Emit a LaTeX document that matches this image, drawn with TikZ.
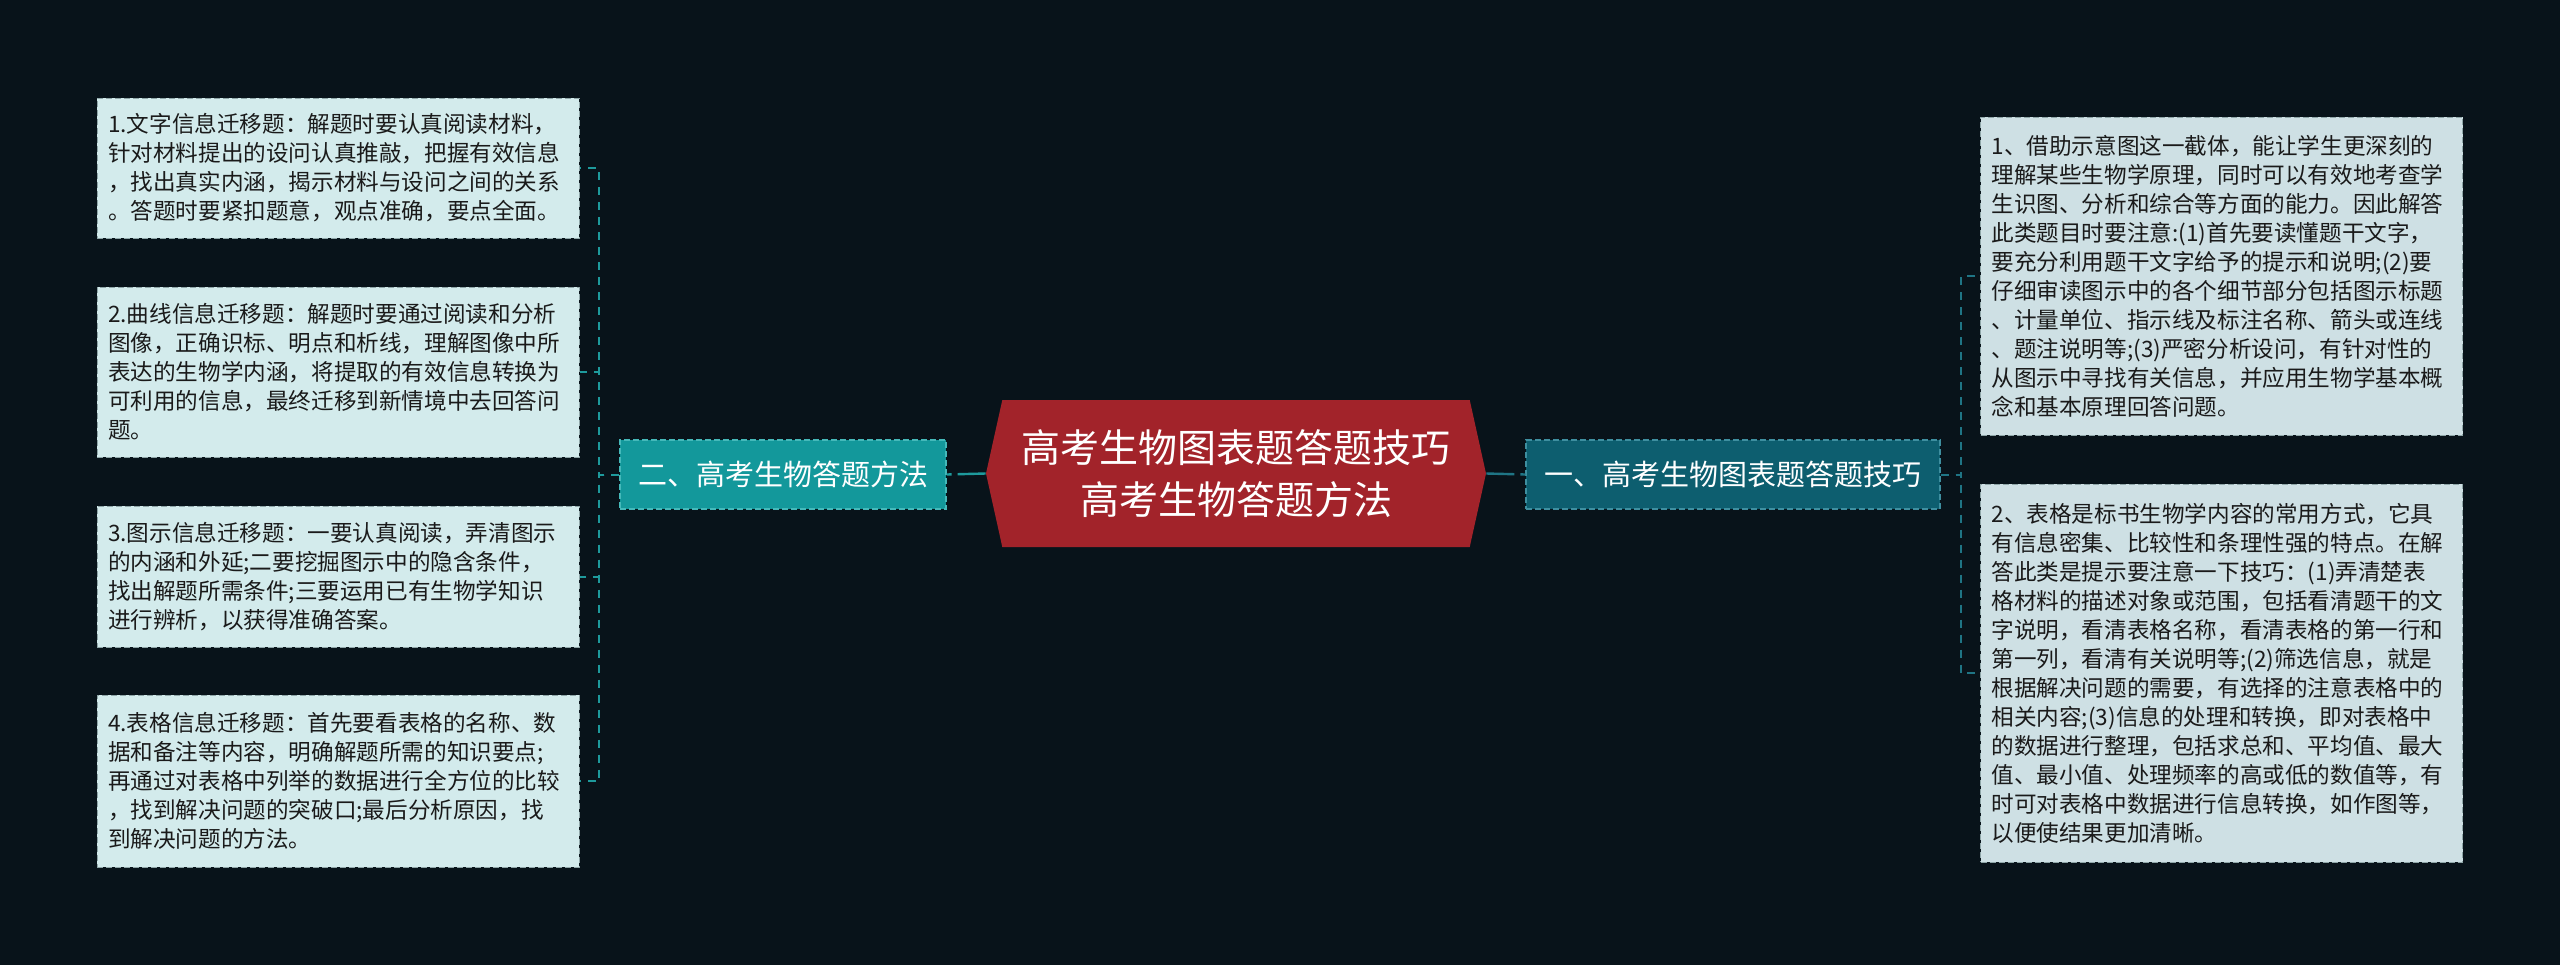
\documentclass[tikz,border=0pt]{standalone}
\usepackage{fontspec}
\newfontfamily\cjk{Noto Sans CJK SC}
\usetikzlibrary{shapes.symbols}
\definecolor{bgcol}{HTML}{08131A}
\definecolor{rootred}{HTML}{A2232A}
\definecolor{secfilll}{HTML}{13989B}
\definecolor{secedgel}{HTML}{45B9BA}
\definecolor{secfillr}{HTML}{0D5E6F}
\definecolor{secedger}{HTML}{3E8FA0}
\definecolor{leaffilll}{HTML}{D3EBEC}
\definecolor{leaffillr}{HTML}{CEE0E4}
\definecolor{leafedge}{HTML}{8FA6A8}
\definecolor{leaftext}{HTML}{1A1A1A}
\definecolor{connl}{HTML}{1E9A9C}
\definecolor{connr}{HTML}{1F7585}

\begin{document}
\begin{tikzpicture}[x=0.5pt, y=-0.5pt,
    rootnode/.style={signal, signal to=west and east, signal pointer angle=155,
      fill=rootred, text=white, minimum width=250pt, minimum height=73.5pt,
      inner sep=0pt, align=center, font=\cjk\fontsize{19.5pt}{26pt}\selectfont},
    secnode/.style={draw, dash pattern=on 3pt off 1.5pt, line width=0.6pt, text=white,
      minimum height=34.5pt, inner sep=0pt, font=\cjk\fontsize{14.5pt}{17pt}\selectfont},
    leaf/.style={draw=leafedge, dash pattern=on 3pt off 1.5pt, line width=0.5pt,
      text=leaftext, text width=230pt, inner xsep=5.5pt, inner ysep=0pt, align=left,
      font=\cjk\fontsize{11.3pt}{14.5pt}\selectfont},
    conn/.style={line width=1pt, dash pattern=on 4pt off 3.5pt},
    rootconn/.style={line width=1.2pt, dash pattern=on 14pt off 3pt}]
    \fill [bgcol] (0, 0) rectangle (2560, 965);
    \useasboundingbox (0, 0) rectangle (2560, 965);
    \node [rootnode] (root) at (1236, 473.5) {高考生物图表题答题技巧\\高考生物答题方法};
    \node [secnode, draw=secedgel, fill=secfilll, minimum width=163pt] (sec2) at (783, 474.5) {二、高考生物答题方法};
    \node [secnode, draw=secedger, fill=secfillr, minimum width=207pt] (sec1) at (1733, 474.5) {一、高考生物图表题答题技巧};
    \node [leaf, fill=leaffilll, minimum height=70pt] (tip1) at (338, 168) {1.文字信息迁移题：解题时要认真阅读材料，\\针对材料提出的设问认真推敲，把握有效信息\\，找出真实内涵，揭示材料与设问之间的关系\\。答题时要紧扣题意，观点准确，要点全面。};
    \node [leaf, fill=leaffilll, minimum height=85pt] (tip2) at (338, 372) {2.曲线信息迁移题：解题时要通过阅读和分析\\图像，正确识标、明点和析线，理解图像中所\\表达的生物学内涵，将提取的有效信息转换为\\可利用的信息，最终迁移到新情境中去回答问\\题。};
    \node [leaf, fill=leaffilll, minimum height=70.5pt] (tip3) at (338, 576.5) {3.图示信息迁移题：一要认真阅读，弄清图示\\的内涵和外延;二要挖掘图示中的隐含条件，\\找出解题所需条件;三要运用已有生物学知识\\进行辨析，以获得准确答案。};
    \node [leaf, fill=leaffilll, minimum height=86pt] (tip4) at (338, 781) {4.表格信息迁移题：首先要看表格的名称、数\\据和备注等内容，明确解题所需的知识要点;\\再通过对表格中列举的数据进行全方位的比较\\，找到解决问题的突破口;最后分析原因，找\\到解决问题的方法。};
    \node [leaf, fill=leaffillr, minimum height=159pt] (pt1) at (2221.5, 276) {1、借助示意图这一截体，能让学生更深刻的\\理解某些生物学原理，同时可以有效地考查学\\生识图、分析和综合等方面的能力。因此解答\\此类题目时要注意:(1)首先要读懂题干文字，\\要充分利用题干文字给予的提示和说明;(2)要\\仔细审读图示中的各个细节部分包括图示标题\\、计量单位、指示线及标注名称、箭头或连线\\、题注说明等;(3)严密分析设问，有针对性的\\从图示中寻找有关信息，并应用生物学基本概\\念和基本原理回答问题。};
    \node [leaf, fill=leaffillr, minimum height=189pt] (pt2) at (2221.5, 673) {2、表格是标书生物学内容的常用方式，它具\\有信息密集、比较性和条理性强的特点。在解\\答此类是提示要注意一下技巧：(1)弄清楚表\\格材料的描述对象或范围，包括看清题干的文\\字说明，看清表格名称，看清表格的第一行和\\第一列，看清有关说明等;(2)筛选信息，就是\\根据解决问题的需要，有选择的注意表格中的\\相关内容;(3)信息的处理和转换，即对表格中\\的数据进行整理，包括求总和、平均值、最大\\值、最小值、处理频率的高或低的数值等，有\\时可对表格中数据进行信息转换，如作图等，\\以便使结果更加清晰。};
    \draw [rootconn, connl] (root.west) -- (sec2.east);
    \draw [rootconn, connr] (root.east) -- (sec1.west);
    \foreach \b in {tip1, tip2, tip3, tip4}
        \draw [conn, connl] (sec2.west) -- ++(-20, 0) |- (\b.east);
    \foreach \b in {pt1, pt2}
        \draw [conn, connr] (sec1.east) -- ++(20, 0) |- (\b.west);
\end{tikzpicture}
\end{document}
